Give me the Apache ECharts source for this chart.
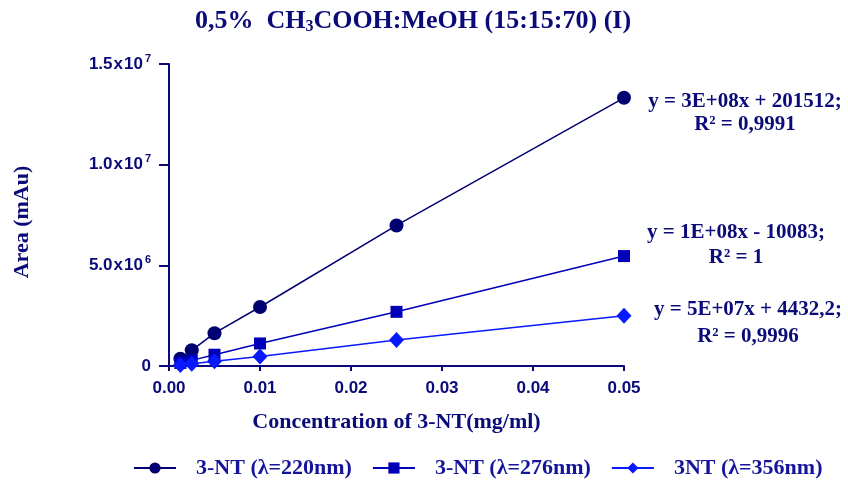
<!DOCTYPE html>
<html>
<head>
<meta charset="utf-8">
<script src="https://cdn.jsdelivr.net/npm/echarts@6/dist/echarts.min.js"></script>
<style>html,body{margin:0;padding:0;background:#fff;}#c{width:848px;height:488px;}</style>
</head>
<body>
<div id="c"></div>
<script>
// ---- data ----
var concentrations = [0.00125, 0.0025, 0.005, 0.01, 0.025, 0.05];
var area220 = [360000, 780000, 1630000, 2930000, 6980000, 13320000];
var area276 = [150000, 280000, 560000, 1120000, 2690000, 5460000];
var area356 = [50000, 110000, 230000, 470000, 1290000, 2490000];
var seriesNames = ['3-NT (\u03bb=220nm)', '3-NT (\u03bb=276nm)', '3NT (\u03bb=356nm)'];
var yTickValues = [0, 5000000, 10000000, 15000000];
var yTickMantissa = ['0', '5.0', '1.0', '1.5'];
var yTickExponent = ['', '6', '7', '7'];
var xTickLabels = ['0.00', '0.01', '0.02', '0.03', '0.04', '0.05'];
var equations = [
  ['y = 3E+08x + 201512;', 'R\u00b2 = 0,9991'],
  ['y = 1E+08x - 10083;', 'R\u00b2 = 1'],
  ['y = 5E+07x + 4432,2;', 'R\u00b2 = 0,9996']
];

function pairs(ys) { return concentrations.map(function (x, i) { return [x, ys[i]]; }); }

var navy = '#0a0a78';
var colors = ['#000070', '#0000b8', '#0818ff'];
var serif = '"Liberation Serif", "Times New Roman", serif';
var sans = '"Liberation Sans", Arial, sans-serif';

var chart = echarts.init(document.getElementById('c'), null, {renderer: 'canvas'});

var eqPos = [[745, 102, 125], [736, 233, 258], [748, 310, 337]];
var graphics = equations.reduce(function (acc, eq, i) {
  acc.push({type: 'text', x: eqPos[i][0], y: eqPos[i][1], style: {text: eq[0], font: 'bold 21px ' + serif, fill: navy, align: 'center', verticalAlign: 'middle'}});
  acc.push({type: 'text', x: eqPos[i][0], y: eqPos[i][2], style: {text: eq[1], font: 'bold 21px ' + serif, fill: navy, align: 'center', verticalAlign: 'middle'}});
  return acc;
}, []);

chart.setOption({
  animation: false,
  backgroundColor: '#fff',
  title: {
    text: '0,5%  CH{sub|3}COOH:MeOH (15:15:70) (I)',
    left: 408, top: 3, textAlign: 'center',
    textStyle: {
      fontFamily: serif, fontWeight: 'bold', fontSize: 26, color: navy,
      rich: {sub: {fontFamily: serif, fontWeight: 'bold', fontSize: 16, color: navy, padding: [11, 0, 0, 0]}}
    }
  },
  grid: {left: 169, right: 224, top: 64, bottom: 122, containLabel: false},
  legend: {
    bottom: 4, left: 128,
    itemWidth: 42, itemHeight: 14, itemGap: 20,
    textStyle: {fontFamily: serif, fontWeight: 'bold', fontSize: 22, color: '#14149c', padding: [0, 0, 0, 15]},
    data: seriesNames
  },
  xAxis: {
    type: 'value', min: 0, max: 0.05, interval: 0.01,
    name: 'Concentration of 3-NT(mg/ml)', nameLocation: 'middle', nameGap: 45,
    nameTextStyle: {fontFamily: serif, fontWeight: 'bold', fontSize: 22, color: navy},
    axisLine: {show: true, onZero: false, lineStyle: {color: navy, width: 2}},
    axisTick: {show: true, length: 5, lineStyle: {color: navy, width: 2}},
    splitLine: {show: false},
    axisLabel: {
      margin: 14, fontFamily: sans, fontWeight: 'bold', fontSize: 17, color: navy,
      formatter: function (v) { return xTickLabels[Math.round(v / 0.01)]; }
    }
  },
  yAxis: {
    type: 'value', min: 0, max: 15000000, interval: 5000000,
    name: 'Area (mAu)', nameLocation: 'middle', nameGap: 136,
    nameTextStyle: {fontFamily: serif, fontWeight: 'bold', fontSize: 22, color: navy, padding: [0, 14, 0, 0]},
    axisLine: {show: true, onZero: false, lineStyle: {color: navy, width: 2}},
    axisTick: {show: true, length: 10, lineStyle: {color: navy, width: 2}},
    splitLine: {show: false},
    axisLabel: {
      margin: 18, fontFamily: sans, fontWeight: 'bold', fontSize: 17, color: navy,
      formatter: function (v) {
        var i = yTickValues.indexOf(v);
        if (i < 0) return '';
        if (!yTickExponent[i]) return '{m|' + yTickMantissa[i] + '}';
        return '{m|' + yTickMantissa[i] + '}{x|x}{m|10}{e|' + yTickExponent[i] + '}';
      },
      rich: {
        m: {fontFamily: sans, fontWeight: 'bold', fontSize: 17, color: navy},
        x: {fontFamily: sans, fontWeight: 'bold', fontSize: 17, color: navy, padding: [0, 1, 0, 1]},
        e: {fontFamily: sans, fontWeight: 'bold', fontSize: 11, color: navy, padding: [0, 0, 11, 2]}
      }
    }
  },
  series: [
    {name: seriesNames[0], type: 'line', data: pairs(area220), symbol: 'circle', symbolSize: 14,
      lineStyle: {color: colors[0], width: 1.5}, itemStyle: {color: colors[0]}},
    {name: seriesNames[1], type: 'line', data: pairs(area276), symbol: 'rect', symbolSize: 12,
      lineStyle: {color: colors[1], width: 1.5}, itemStyle: {color: colors[1]}},
    {name: seriesNames[2], type: 'line', data: pairs(area356), symbol: 'diamond', symbolSize: [15, 16],
      lineStyle: {color: colors[2], width: 1.5}, itemStyle: {color: colors[2]}}
  ],
  graphic: graphics
});
</script>
</body>
</html>
